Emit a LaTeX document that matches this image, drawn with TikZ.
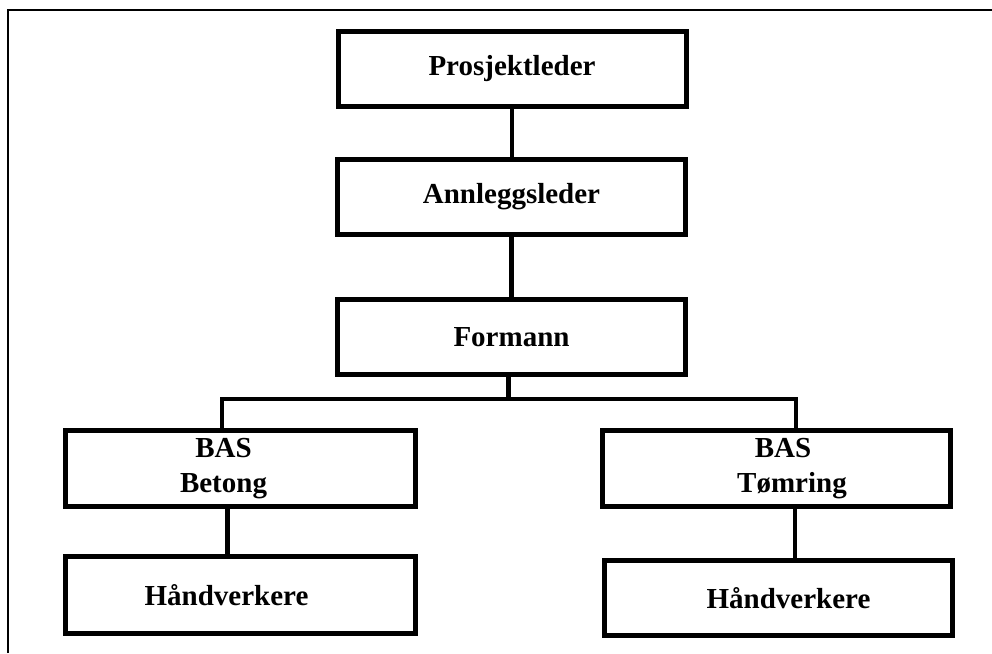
\documentclass[tikz,border=0pt]{standalone}
\usepackage{fontspec}
\setmainfont{Liberation Serif}
\begin{document}
\begin{tikzpicture}[x=1pt,y=-1pt,
  orgbox/.style={draw=black, line width=5pt, fill=white, rectangle,
    minimum width=348pt, minimum height=75pt, inner sep=0pt,
    align=center, font=\fontsize{29}{35}\selectfont\bfseries},
  link/.style={draw=black, line width=4.5pt, line join=miter},
  frameline/.style={draw=black, line width=2pt}]
\useasboundingbox (0,0) rectangle (992,653);

% page frame (only top and left edges are visible)
\draw[frameline] (8,653) -- (8,9.5) -- (992,9.5);

% boxes
\node[orgbox] (pl) at (512,69) {Prosjektleder};
\node[orgbox] (al) at (511.5,197) {Annleggsleder};
\node[orgbox] (fm) at (511.5,337) {Formann};
\node[orgbox, minimum width=350pt, minimum height=76pt] (bb) at (240.5,468.5)
  {BAS\hspace*{34pt}\\Betong\hspace*{34pt}};
\node[orgbox, minimum height=76pt] (bt) at (776,468.5)
  {\hspace*{14pt}BAS\\\hspace*{32pt}Tømring};
\node[orgbox, minimum width=350pt, minimum height=77pt] (hl) at (240.5,595)
  {Håndverkere\hspace*{28pt}};
\node[orgbox] (hr) at (778.5,598) {\hspace*{20pt}Håndverkere};

% junction points of the branch bar
\coordinate (jl) at (222,399);
\coordinate (jr) at (796,399);

% connectors
\draw[link] (pl.south) -- (pl.south |- al.north);
\draw[link] (al.south) -- (al.south |- fm.north);
\draw[link] ([xshift=-3pt]fm.south) -- ([xshift=-3pt]fm.south |- jl);
\draw[link] (jl |- bb.north) -- (jl) -- (jr) -- (jr |- bt.north);
\draw[link] ([xshift=-13pt]bb.south) -- ([xshift=-13pt]bb.south |- hl.north);
\draw[link] ([xshift=19pt]bt.south) -- ([xshift=19pt]bt.south |- hr.north);
\end{tikzpicture}
\end{document}
